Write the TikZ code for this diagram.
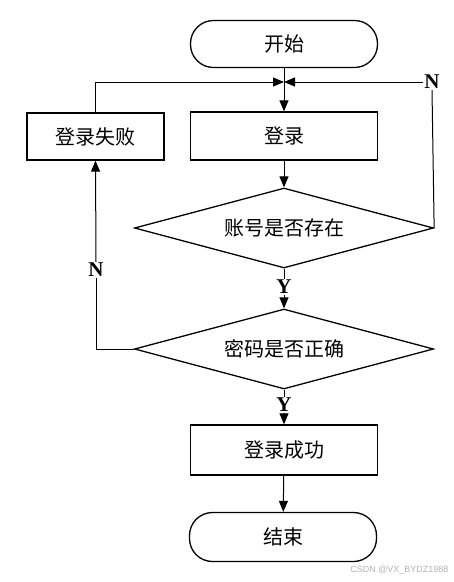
\documentclass[tikz,border=0pt]{standalone}
\usepackage{fontspec}
\setmainfont{Liberation Serif}
\newfontfamily\cjk{Noto Sans CJK SC}
\newfontfamily\wmfont{Liberation Sans}
\usetikzlibrary{shapes.geometric, arrows.meta}

\begin{document}
\begin{tikzpicture}[x=1pt, y=-1pt,
    >={Triangle[length=11pt,width=9pt]},
    term/.style={draw, line width=1.3pt, rounded corners=23pt, minimum width=187pt, minimum height=47pt, font=\cjk\fontsize{20}{22}\selectfont},
    box/.style={draw, line width=1.3pt, minimum width=187pt, minimum height=48pt, font=\cjk\fontsize{20}{22}\selectfont},
    cond/.style={draw, line width=1.3pt, diamond, aspect=3.7, inner sep=0pt, minimum width=299pt, minimum height=80pt, font=\cjk\fontsize{20}{22}\selectfont},
    lab/.style={font=\bfseries\fontsize{21}{22}\selectfont, inner sep=1pt},
    line/.style={line width=1pt}]
            \useasboundingbox (0,0) rectangle (454,582);

            % Boxes
            \node[term] (start) at (284,44) {开始};
            \node[box] (login) at (284,136) {登录};
            \node[box, minimum width=137pt, minimum height=47pt] (fail) at (95.5,136.5) {登录失败};
            \node[cond] (chk1) at (284,228) {账号是否存在};
            \node[cond] (chk2) at (284,349) {密码是否正确};
            \node[box, minimum height=50pt] (succ) at (284,450) {登录成功};
            \node[term, minimum height=49pt] (stop) at (283,537) {结束};

            % Labels
            \node[lab] (nr) at (432,82) {N};
            \node[lab] (nl) at (96,270) {N};
            \node[lab] (y1) at (284,287) {Y};
            \node[lab] (y2) at (284,405) {Y};
            \coordinate (merge) at (284,82);

            % Connectors
            \draw[line, ->] (start) -- (login);
            \draw[line, ->] (fail.north) |- (merge);
            \draw[line, ->] (nr.west) -- (merge);
            \draw[line] (chk1.east) -- (nr.south);
            \draw[line, ->] (login) -- (chk1);
            \draw[line] (chk1.south) -- (y1.north);
            \draw[line, ->] (y1.south) -- (chk2.north);
            \draw[line] (chk2.west) -| (nl.south);
            \draw[line, ->] (nl.north) -- (fail.south);
            \draw[line] (chk2.south) -- (y2.north);
            \draw[line, ->] (y2.south) -- (succ.north);
            \draw[line, ->] (succ) -- (stop);

            % Watermark
            \node[anchor=east, text=black!30, font=\wmfont\fontsize{9}{10}\selectfont] (wm) at (452,570) {CSDN @VX\_BYDZ1988};
        \end{tikzpicture}
\end{document}
